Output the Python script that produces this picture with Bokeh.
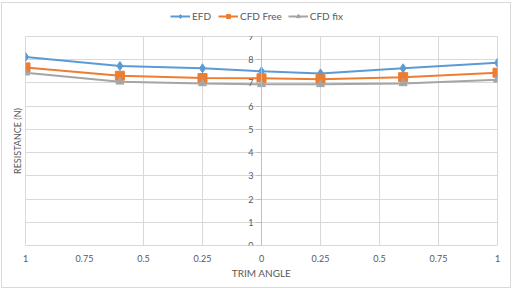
from bokeh.plotting import figure
from bokeh.layouts import column
from bokeh.models import FixedTicker, LinearAxis, Legend, LegendItem, Range1d
from bokeh.embed import file_html
from bokeh.resources import INLINE

# Trim angle positions and resistance values (N)
trim_angle = [-1.0, -0.6, -0.25, 0.0, 0.25, 0.6, 1.0]
efd = [8.12, 7.73, 7.63, 7.50, 7.41, 7.63, 7.87]
cfd_free = [7.67, 7.31, 7.21, 7.20, 7.16, 7.25, 7.44]
cfd_fix = [7.44, 7.05, 6.98, 6.94, 6.94, 6.98, 7.14]
series_names = ["EFD", "CFD Free", "CFD fix"]

x_ticks = [-1.0, -0.75, -0.5, -0.25, 0.0, 0.25, 0.5, 0.75, 1.0]
x_tick_labels = ["1", "0.75", "0.5", "0.25", "0", "0.25", "0.5", "0.75", "1"]
x_grid = [-1.0, -0.5, -0.25, 0.0, 0.25, 0.5, 0.75, 1.0]
y_ticks = list(range(0, 10))

FONT = "Lato"
TXT = "#595959"
GRID = "#d9d9d9"
BLUE = "#5b9bd5"
ORANGE = "#ed7d31"
GREY = "#a5a5a5"
styles = [(BLUE, "diamond", 9), (ORANGE, "square", 9), (GREY, "triangle", 8)]

p = figure(width=508, height=256, output_backend="svg", toolbar_location=None,
           x_range=Range1d(-1, 1), y_range=Range1d(0, 9),
           min_border_left=23, min_border_right=13, min_border_top=5,
           min_border_bottom=42, x_axis_location=None, y_axis_location=None)
p.outline_line_color = GRID
p.background_fill_color = "white"
p.border_fill_color = "white"

# bottom axis: labels only
xa = LinearAxis(ticker=FixedTicker(ticks=x_ticks),
                major_label_overrides={t: s for t, s in zip(x_ticks, x_tick_labels)},
                axis_label="TRIM ANGLE", axis_line_color=None,
                major_tick_line_color=None, minor_tick_line_color=None,
                major_label_text_font=FONT, major_label_text_font_size="9px",
                major_label_text_color=TXT, major_label_standoff=3,
                axis_label_text_font=FONT, axis_label_text_font_size="10px",
                axis_label_text_font_style="normal", axis_label_text_color=TXT,
                axis_label_standoff=2)
p.add_layout(xa, "below")

# left axis: title only
ya_title = LinearAxis(ticker=FixedTicker(ticks=[]), axis_label="RESISTANCE (N)",
                      axis_line_color=None, major_tick_line_color=None,
                      minor_tick_line_color=None,
                      axis_label_text_font=FONT, axis_label_text_font_size="9px",
                      axis_label_text_font_style="normal",
                      axis_label_text_color=TXT, axis_label_standoff=3)
p.add_layout(ya_title, "left")

# value axis crossing at trim angle 0
ya = LinearAxis(ticker=FixedTicker(ticks=y_ticks), fixed_location=0,
                axis_line_color="#bfbfbf", major_tick_line_color="#bfbfbf",
                major_tick_in=0, major_tick_out=5, minor_tick_line_color=None,
                major_label_text_font=FONT, major_label_text_font_size="9px",
                major_label_text_color=TXT, major_label_standoff=3)
p.add_layout(ya, "left")

p.xgrid.ticker = FixedTicker(ticks=x_grid)
p.ygrid.ticker = FixedTicker(ticks=y_ticks)
for g in (p.xgrid[0], p.ygrid[0]):
    g.grid_line_color = GRID
    g.grid_line_width = 1

for ys, (col, mk, sz) in zip([efd, cfd_free, cfd_fix], styles):
    p.line(trim_angle, ys, line_color=col, line_width=2)
    p.scatter(trim_angle, ys, marker=mk, size=sz, fill_color=col, line_color=col)

# legend strip across the top of the chart; its sample glyphs sit off-range
lg = figure(width=508, height=28, output_backend="svg", toolbar_location=None,
            x_range=Range1d(0, 1), y_range=Range1d(0, 1),
            x_axis_location=None, y_axis_location=None, min_border=0)
lg.outline_line_color = None
lg.xgrid.visible = False
lg.ygrid.visible = False
items = []
for name, (col, mk, sz) in zip(series_names, styles):
    r1 = lg.line([-5, -4], [-5, -4], line_color=col, line_width=2)
    r2 = lg.scatter([-5], [-5], marker=mk, size=sz - 2, fill_color=col,
                    line_color=col)
    items.append(LegendItem(label=name, renderers=[r1, r2]))
legend = Legend(items=items, orientation="horizontal", location=(145, 9),
                border_line_color=None, background_fill_alpha=0,
                label_text_font=FONT, label_text_font_size="10px",
                label_text_color=TXT, glyph_width=20, glyph_height=10,
                spacing=6, label_standoff=2, padding=0, margin=0)
lg.add_layout(legend, "center")

layout = column(lg, p, spacing=0, margin=(2, 0, 0, 1),
                styles={"border": "1px solid #d9d9d9"})

open("out.html", "w").write(file_html(layout, INLINE))
